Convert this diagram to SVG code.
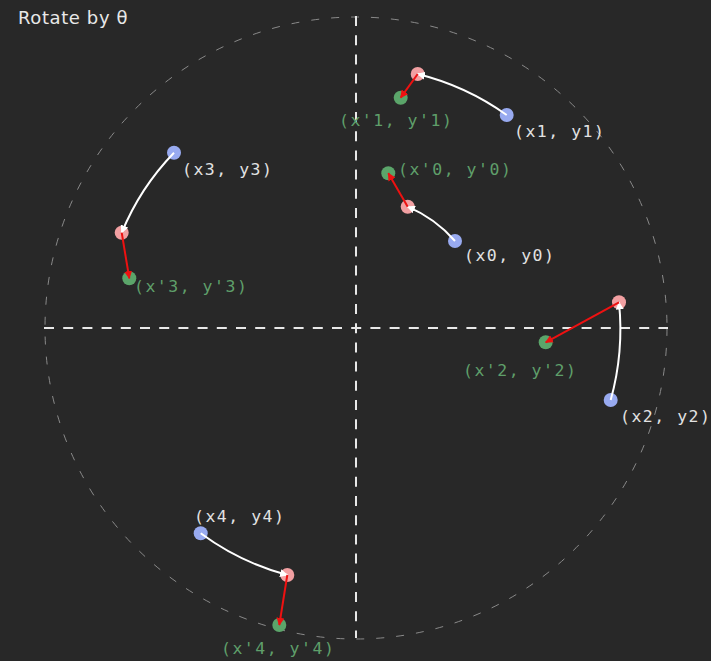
<svg xmlns="http://www.w3.org/2000/svg" width="711" height="661" viewBox="0 0 711 661">
<defs>
<style>
.bg{fill:#282828}
.title{font-family:"DejaVu Sans","Liberation Sans",sans-serif;font-size:18px;letter-spacing:0.6px;fill:#e8e8e8}
.lbl{font-family:"DejaVu Sans Mono","Liberation Mono",monospace;font-size:16.5px;letter-spacing:1.5px}
.w{fill:#e2e2e2}
.g{fill:#5f9f6a}
.blue{fill:#98aaf0}
.red{fill:#f2a0a2}
.green{fill:#5ba56a}
.arc{fill:none;stroke:#ffffff;stroke-width:2;marker-end:url(#wa)}
.rot{fill:none;stroke:#ee1111;stroke-width:2;marker-end:url(#ra)}
.axis{stroke:#e8e8e8;stroke-width:2;stroke-dasharray:10 9.2;fill:none}
.circ{fill:none;stroke:#8a8a8a;stroke-width:1;stroke-dasharray:8 12}
</style>
<marker id="wa" viewBox="0 0 10 10" refX="9" refY="5" markerWidth="8" markerHeight="8" markerUnits="userSpaceOnUse" orient="auto"><path d="M0,0 L10,5 L0,10 z" fill="#ffffff"/></marker>
<marker id="ra" viewBox="0 0 10 10" refX="9" refY="5" markerWidth="8" markerHeight="8" markerUnits="userSpaceOnUse" orient="auto"><path d="M0,0 L10,5 L0,10 z" fill="#ee1111"/></marker>
</defs>
<rect class="bg" x="0" y="0" width="711" height="661"/>
<text class="title" x="18" y="24">Rotate by θ</text>
<g id="frame">
<circle class="circ" cx="356" cy="328" r="311"/>
<line class="axis" x1="44" y1="328" x2="668" y2="328"/>
<line class="axis" x1="356" y1="16" x2="356" y2="638"/>
</g>
<g id="p0"><circle class="blue" cx="455" cy="241" r="7"/><text class="lbl w" x="464" y="261">(x0, y0)</text></g>
<g id="r0"><circle class="red" cx="407.7" cy="206.7" r="7"/></g>
<g id="g0"><circle class="green" cx="388.3" cy="173.3" r="7"/><text class="lbl g" x="398" y="175">(x'0, y'0)</text></g>
<g id="p1"><circle class="blue" cx="506.7" cy="115" r="7"/><text class="lbl w" x="514" y="137">(x1, y1)</text></g>
<g id="r1"><circle class="red" cx="417.7" cy="74" r="7"/></g>
<g id="g1"><circle class="green" cx="400.7" cy="97.7" r="7"/><text class="lbl g" x="339" y="126">(x'1, y'1)</text></g>
<g id="p2"><circle class="blue" cx="610.7" cy="400" r="7"/><text class="lbl w" x="620" y="422">(x2, y2)</text></g>
<g id="r2"><circle class="red" cx="619" cy="302.3" r="7"/></g>
<g id="g2"><circle class="green" cx="545.7" cy="342.3" r="7"/><text class="lbl g" x="463" y="376">(x'2, y'2)</text></g>
<g id="p3"><circle class="blue" cx="174" cy="152.7" r="7"/><text class="lbl w" x="182" y="175">(x3, y3)</text></g>
<g id="r3"><circle class="red" cx="121.7" cy="232.7" r="7"/></g>
<g id="g3"><circle class="green" cx="129.3" cy="278.3" r="7"/><text class="lbl g" x="134" y="292">(x'3, y'3)</text></g>
<g id="p4"><circle class="blue" cx="200.7" cy="533.3" r="7"/><text class="lbl w" x="194" y="522">(x4, y4)</text></g>
<g id="r4"><circle class="red" cx="287.3" cy="575" r="7"/></g>
<g id="g4"><circle class="green" cx="279.3" cy="625" r="7"/><text class="lbl g" x="221" y="654">(x'4, y'4)</text></g>
<g id="connectors">
<path class="arc" d="M455,241 A132,132 0 0 0 407.7,206.7"/>
<path class="arc" d="M506.7,115 A261,261 0 0 0 417.7,74"/>
<path class="arc" d="M610.7,400 A264.5,264.5 0 0 0 619,302.3"/>
<path class="arc" d="M174,152.7 A253,253 0 0 0 121.7,232.7"/>
<path class="arc" d="M200.7,533.3 A257,257 0 0 0 287.3,575"/>
<line class="rot" x1="407.7" y1="206.7" x2="388.3" y2="173.3"/>
<line class="rot" x1="417.7" y1="74" x2="400.7" y2="97.7"/>
<line class="rot" x1="619" y1="302.3" x2="545.7" y2="342.3"/>
<line class="rot" x1="121.7" y1="232.7" x2="129.3" y2="278.3"/>
<line class="rot" x1="287.3" y1="575" x2="279.3" y2="625"/>
</g>
</svg>
